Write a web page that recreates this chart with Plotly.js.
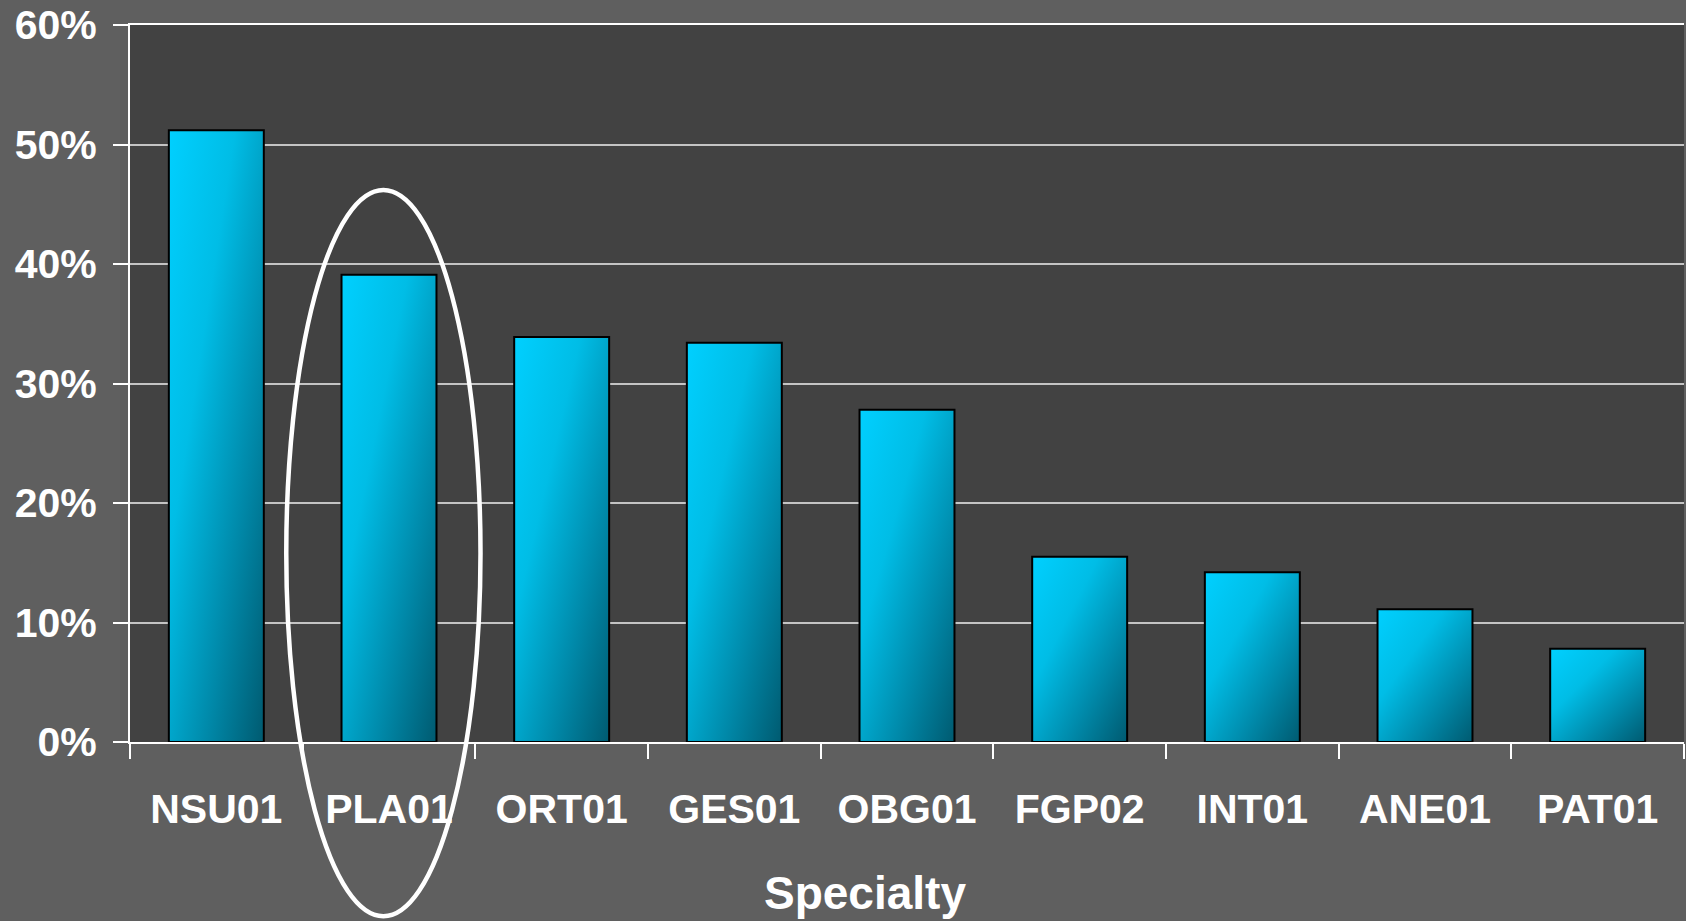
<!DOCTYPE html>
<html>
<head>
<meta charset="utf-8">
<script src="https://cdn.plot.ly/plotly-3.0.1.min.js"></script>
<style>
html,body{margin:0;padding:0;background:#5f5f5f;}
#chart{width:1686px;height:921px;}
</style>
</head>
<body>
<div id="chart"></div>
<script>
// Data
const specialties = ["NSU01", "PLA01", "ORT01", "GES01", "OBG01", "FGP02", "INT01", "ANE01", "PAT01"];
const percentages = [51.2, 39.1, 33.9, 33.4, 27.8, 15.5, 14.2, 11.1, 7.8];
const yTickValues = [0, 10, 20, 30, 40, 50, 60];
const axisTitle = "Specialty";
const highlighted = "PLA01";

const FONT = "Liberation Sans, Arial, Helvetica, sans-serif";

const hi = specialties.indexOf(highlighted);

const trace = {
  type: "bar",
  x: specialties,
  y: percentages,
  marker: {
    color: "#00a8d0",
    line: {color: "#000000", width: 2}
  },
  hoverinfo: "x+y"
};

const layout = {
  width: 1686,
  height: 921,
  paper_bgcolor: "#5f5f5f",
  plot_bgcolor: "#424242",
  margin: {l: 130, r: 2, t: 25, b: 179},
  showlegend: false,
  bargap: 0.45,
  font: {family: FONT, color: "#ffffff"},
  xaxis: {
    type: "category",
    range: [-0.5, specialties.length - 0.5],
    showline: true,
    linecolor: "#ffffff",
    linewidth: 2,
    mirror: true,
    ticks: "outside",
    tickson: "boundaries",
    ticklen: 15,
    tickwidth: 2,
    tickcolor: "#ffffff",
    showgrid: false,
    tickfont: {family: FONT, size: 41, color: "#ffffff", weight: "bold"},
    ticklabelstandoff: 30,
    fixedrange: true
  },
  yaxis: {
    range: [0, 60],
    tickvals: yTickValues,
    ticktext: yTickValues.map(v => v + "%"),
    showline: true,
    linecolor: "#ffffff",
    linewidth: 2,
    ticks: "outside",
    ticklen: 15,
    tickwidth: 2,
    tickcolor: "#ffffff",
    showgrid: true,
    gridcolor: "#c4c4c4",
    gridwidth: 2,
    zeroline: false,
    tickfont: {family: FONT, size: 41, color: "#ffffff", weight: "bold"},
    ticklabelstandoff: 8,
    fixedrange: true
  },
  annotations: [{
    text: axisTitle,
    xref: "paper", yref: "paper",
    x: 0.473, y: -0.21,
    xanchor: "center", yanchor: "middle",
    showarrow: false,
    font: {family: FONT, size: 46, color: "#ffffff", weight: "bold"}
  }],
  shapes: [{
    type: "circle",
    xref: "x", yref: "paper",
    x0: hi - 0.595, x1: hi + 0.53,
    y0: -0.243, y1: 0.770,
    line: {color: "#ffffff", width: 4.5},
    fillcolor: "rgba(0,0,0,0)",
    layer: "above"
  }]
};

Plotly.newPlot("chart", [trace], layout, {displayModeBar: false, staticPlot: true}).then(gd => {
  const svg = gd.querySelector("svg.main-svg");
  const ns = "http://www.w3.org/2000/svg";
  let defs = svg.querySelector("defs");
  if (!defs) { defs = document.createElementNS(ns, "defs"); svg.insertBefore(defs, svg.firstChild); }
  const grad = document.createElementNS(ns, "linearGradient");
  grad.setAttribute("id", "barGrad");
  grad.setAttribute("x1", "0"); grad.setAttribute("y1", "0");
  grad.setAttribute("x2", "1"); grad.setAttribute("y2", "1");
  [["0", "#00d0ff"], ["0.35", "#00bde6"], ["0.7", "#0088a8"], ["1", "#005a70"]].forEach(([o, c]) => {
    const s = document.createElementNS(ns, "stop");
    s.setAttribute("offset", o); s.setAttribute("stop-color", c);
    grad.appendChild(s);
  });
  defs.appendChild(grad);
  gd.querySelectorAll(".trace.bars .point path").forEach(p => { p.style.fill = "url(#barGrad)"; });
});
</script>
</body>
</html>
